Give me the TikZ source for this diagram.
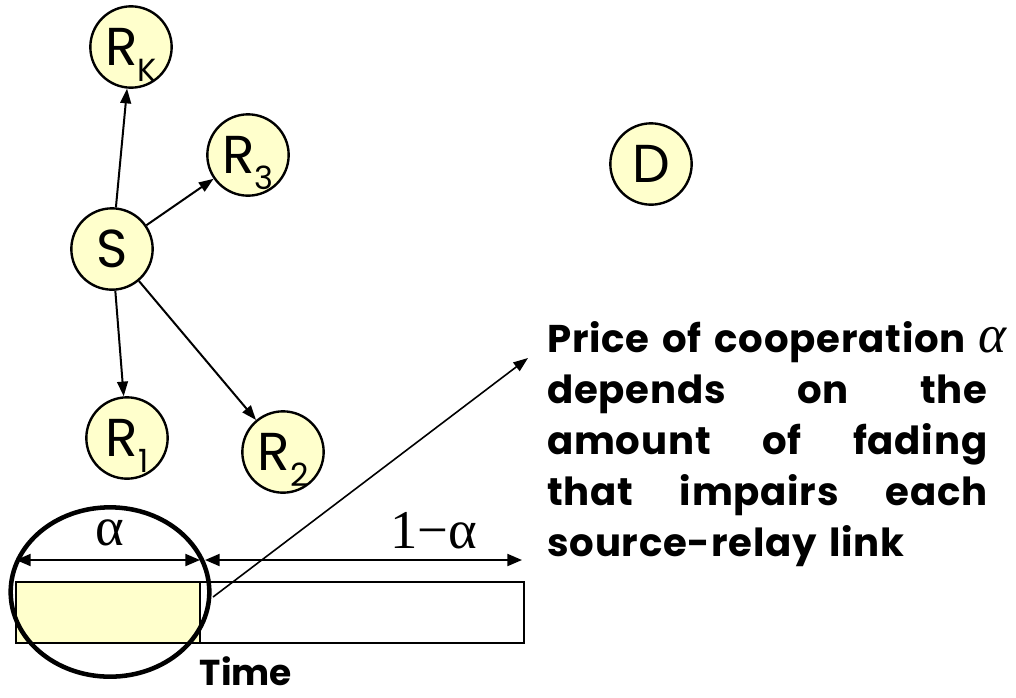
\documentclass[tikz,border=0pt]{standalone}
\usepackage{fontspec}
\setmainfont{Poppins}
\newfontfamily\greekserif{Liberation Serif}
\usetikzlibrary{arrows.meta,shapes.geometric}
\definecolor{nodeyellow}{HTML}{FFFFCC}
\newcommand\rsub[1]{\raisebox{-12pt}[0pt][0pt]{\fontsize{24}{24}\selectfont #1}}
\newcommand\jline[1]{\makebox[330pt][s]{#1}}
\tikzset{
  relay/.style={circle, draw, line width=1.8pt, fill=nodeyellow, minimum size=61pt,
    inner sep=0pt, font=\fontsize{40}{40}\selectfont},
  arr/.style={-{Triangle[length=11pt,width=8pt]}, line width=1.5pt},
  darr/.style={{Triangle[length=11pt,width=9pt]}-{Triangle[length=11pt,width=9pt]}, line width=1.5pt},
  slot/.style={line width=1.4pt},
  greeklab/.style={inner sep=0pt, font=\greekserif\fontsize{41}{41}\selectfont},
  bodytext/.style={inner sep=0pt, font=\bfseries\fontsize{29}{38.4}\selectfont\addfontfeature{LetterSpace=2}},
}
\begin{document}
\begin{tikzpicture}[x=0.75pt, y=-0.75pt]
\useasboundingbox (0,0) rectangle (1016,697);
% network
\node[relay] (RK) at (131,47) {R\rsub{K}};
\node[relay] (R3) at (248,155) {R\rsub{3}};
\node[relay] (S) at (112,249) {S};
\node[relay] (R1) at (127,438) {R\rsub{1}};
\node[relay] (R2) at (283,452) {R\rsub{2}};
\node[relay] (D) at (651,164) {D};
\draw[arr] (S) -- (RK);
\draw[arr] (S) -- (R3);
\draw[arr] (S) -- (R1);
\draw[arr] (S) -- (R2);
% time slots
\draw[slot, fill=white] (16,582) rectangle (524,643);
\draw[slot, fill=nodeyellow] (16,582) rectangle (200,643);
\coordinate (a0) at (16,560);
\coordinate (a1) at (200,560);
\coordinate (b0) at (205,560);
\coordinate (b1) at (522,560);
\draw[darr] (a0) -- (a1);
\draw[darr] (b0) -- (b1);
\node[greeklab] (alab) at (110,533) {α};
\node[greeklab] (blab) at (434,531) {1−α};
\node[draw, ellipse, line width=3.4pt, minimum width=149pt, minimum height=127pt, inner sep=0pt] (E) at (110,592) {};
\coordinate (lstart) at (213,597);
\coordinate (ltip) at (528,358);
\draw[arr, line width=1.2pt] (lstart) -- (ltip);
\node[inner sep=0pt, font=\bfseries\fontsize{27}{27}\selectfont] (time) at (246,671) {Time};
% explanation
\node[bodytext, anchor=base west, text width=360pt, align=left] (expl) at (547,352)
 {Price of cooperation {\greekserif\itshape\mdseries\fontsize{40}{40}\selectfont α}\\
  \jline{depends\hfill on\hfill the}\\
  \jline{amount\hfill of\hfill fading}\\
  \jline{that\hfill impairs\hfill each}\\
  source-relay link};
\end{tikzpicture}
\end{document}
